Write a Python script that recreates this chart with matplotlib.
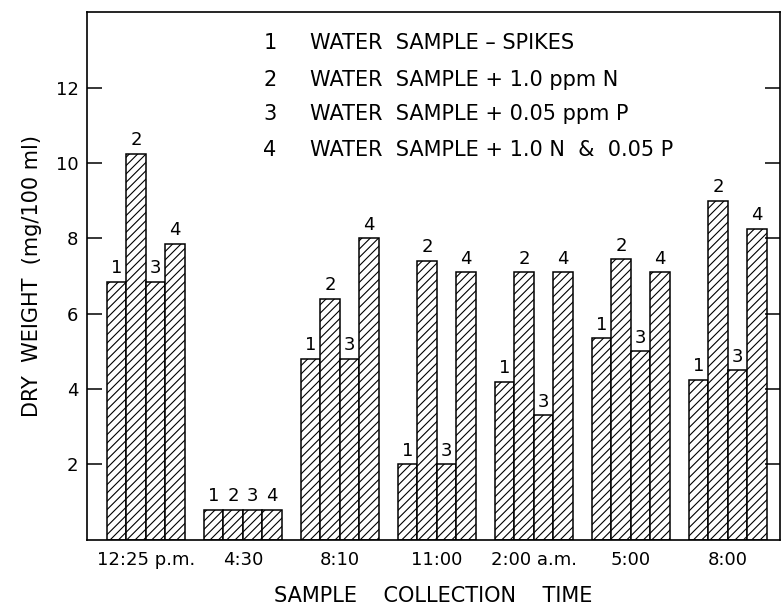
import matplotlib
matplotlib.use("Agg")
import matplotlib.pyplot as plt
import numpy as np

plt.rcParams['font.family'] = ['DejaVu Sans']
plt.rcParams['hatch.linewidth'] = 0.8

times = ["12:25 p.m.", "4:30", "8:10", "11:00", "2:00 a.m.", "5:00", "8:00"]
series_labels = ["1", "2", "3", "4"]
legend_texts = ["WATER  SAMPLE – SPIKES",
                "WATER  SAMPLE + 1.0 ppm N",
                "WATER  SAMPLE + 0.05 ppm P",
                "WATER  SAMPLE + 1.0 N  &  0.05 P"]
s1 = [6.85, 0.8, 4.8, 2.0, 4.2, 5.35, 4.25]
s2 = [10.25, 0.8, 6.4, 7.4, 7.1, 7.45, 9.0]
s3 = [6.85, 0.8, 4.8, 2.0, 3.3, 5.0, 4.5]
s4 = [7.85, 0.8, 8.0, 7.1, 7.1, 7.1, 8.25]
series = [s1, s2, s3, s4]
yticks = [2, 4, 6, 8, 10, 12]

fig = plt.figure(figsize=(7.83, 6.10), dpi=100)
ax = fig.add_axes([0.111, 0.115, 0.885, 0.865])

x = np.arange(len(times))
w = 0.2
for i, vals in enumerate(series):
    pos = x + (i - 1.5) * w
    ax.bar(pos, vals, width=w, color='white', edgecolor='black',
           hatch='////', linewidth=1.1)
    for p, v in zip(pos, vals):
        ax.text(p, v + 0.12, series_labels[i], ha='center', va='bottom',
                fontsize=13)

ax.set_xlim(-0.608, 6.536)
ax.set_ylim(0, 14)
ax.set_yticks(yticks)
ax.set_yticklabels([str(t) for t in yticks], fontsize=13)
ax.set_xticks(x)
ax.set_xticklabels(times, fontsize=13)
ax.tick_params(axis='x', length=0, pad=8)
ax.tick_params(axis='y', direction='in', length=11, width=1.1, right=True, pad=6)
for s in ax.spines.values():
    s.set_linewidth(1.2)

ax.set_ylabel("DRY  WEIGHT  (mg/100 ml)", fontsize=15, labelpad=10)
ax.set_xlabel("SAMPLE    COLLECTION    TIME", fontsize=15, labelpad=12)

ys = [0.941, 0.871, 0.807, 0.739]
for lab, txt, yy in zip(series_labels, legend_texts, ys):
    ax.text(0.264, yy, lab, transform=ax.transAxes, fontsize=15, va='center', ha='center')
    ax.text(0.322, yy, txt, transform=ax.transAxes, fontsize=15, va='center', ha='left')

fig.savefig("out.png", dpi=100)
